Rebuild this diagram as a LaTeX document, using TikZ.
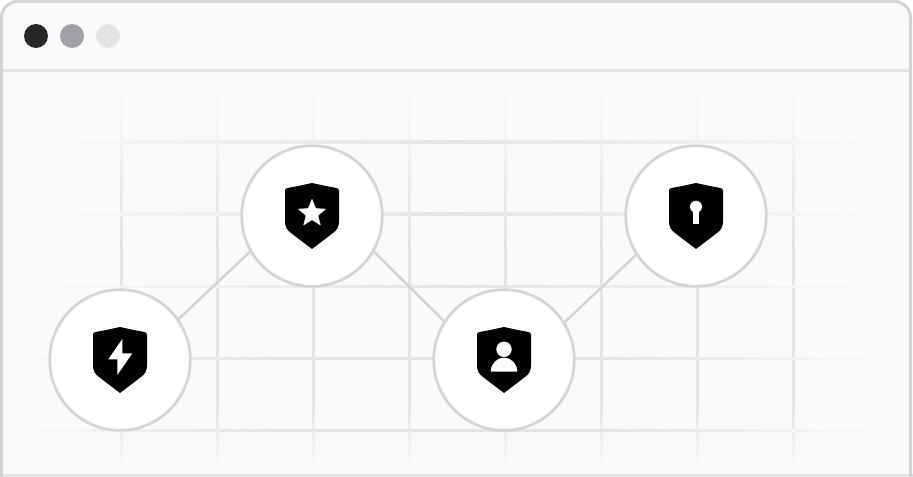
\documentclass[tikz,border=0pt]{standalone}
\usetikzlibrary{shadings}
\definecolor{panel}{HTML}{FAFAFA}
\definecolor{edgegray}{HTML}{D4D4D8}
\definecolor{rulegray}{HTML}{E4E4E7}
\definecolor{midgray}{HTML}{A1A1AA}
\definecolor{darkdot}{HTML}{27272A}
% the path sits in the middle of the shading, 25bp to 75bp
\pgfdeclareverticalshading{fadev}{100bp}{color(0bp)=(panel); color(25bp)=(panel); color(34bp)=(rulegray); color(53bp)=(rulegray); color(75bp)=(panel); color(100bp)=(panel)}
\pgfdeclarehorizontalshading{fadeh}{100bp}{color(0bp)=(panel); color(25bp)=(panel); color(40bp)=(rulegray); color(58bp)=(rulegray); color(75bp)=(panel); color(100bp)=(panel)}
\pgfdeclarehorizontalshading{fadeup}{100bp}{color(0bp)=(panel); color(25bp)=(panel); color(50bp)=(rulegray); color(75bp)=(panel); color(100bp)=(panel)}
\tikzset{
  gridv/.style={shading=fadev},
  gridh/.style={shading=fadeh},
  gridup/.style={shading=fadeup},
  dot/.style={circle, minimum size=18pt, inner sep=0pt},
  badge/.style={draw=edgegray, circle, fill=white, line width=2pt, minimum size=105.5pt, inner sep=0pt},
  link/.style={draw=edgegray, line width=1.9pt},
  shield/.pic={
    \fill[black] (0,-33) .. controls (-9,-31) and (-16,-29.5) .. (-24.5,-28) .. controls (-26.2,-27.6) and (-27,-26.6) .. (-27,-25)
      -- (-27,5) .. controls (-27,11) and (-25,14) .. (-21,17) -- (0,33) -- (21,17)
      .. controls (25,14) and (27,11) .. (27,5) -- (27,-25) .. controls (27,-26.6) and (26.2,-27.6) .. (24.5,-28)
      .. controls (16,-29.5) and (9,-31) .. (0,-33) -- cycle;
  }
}
\begin{document}
\begin{tikzpicture}[x=0.75pt,y=-0.75pt]
    \useasboundingbox (0,0) rectangle (913,477);
    \fill[panel, rounded corners=12pt] (1,490) -- (1,1) -- (911,1) -- (911,490) -- cycle;
    \fill[white] (0,477) rectangle (913,490);

    % grid
    \shade[gridv] (120,78) rectangle (122.5,474);
    \shade[gridv] (216,78) rectangle (218.5,474);
    \shade[gridv] (312,78) rectangle (314.5,474);
    \shade[gridv] (408,78) rectangle (410.5,474);
    \shade[gridv] (504,78) rectangle (506.5,474);
    \shade[gridv] (600,78) rectangle (602.5,474);
    \shade[gridv] (696,78) rectangle (698.5,474);
    \shade[gridv] (792,78) rectangle (794.5,474);
    \shade[gridup] (10,141) rectangle (903,143.5);
    \shade[gridup] (10,213) rectangle (903,215.5);
    \shade[gridup] (10,285) rectangle (903,287.5);
    \shade[gridh] (10,357) rectangle (903,359.5);
    \shade[gridh] (10,429) rectangle (903,431.5);

    % window
    \draw[rulegray, line width=2.25pt] (3,70.5) -- (909,70.5);
    \draw[rulegray, line width=2.25pt] (0,475.5) -- (913,475.5);
    \draw[edgegray, line width=2.25pt, rounded corners=12pt] (1.5,477) -- (1.5,1.5) -- (910.5,1.5) -- (910.5,477);
    \node[dot, fill=darkdot] (close) at (36,36) {};
    \node[dot, fill=midgray] (minimize) at (72,36) {};
    \node[dot, fill=rulegray] (zoom) at (108,36) {};

    \node[badge] (bolt) at (120,360) {};
    \node[badge] (star) at (312,216) {};
    \node[badge] (person) at (504,360) {};
    \node[badge] (lock) at (696,216) {};

    \draw[link] (bolt.35) -- (star.210);
    \draw[link] (star.-30) -- (person.147);
    \draw[link] (person.32) -- (lock.213);

    % icons
    \pic at (bolt) {shield};
    \pic at (star) {shield};
    \pic at (person) {shield};
    \pic at (lock) {shield};
    \begin{scope}[shift={(bolt)}]
      \fill[white] (2.3,-21) -- (-11.7,-0.7) -- (-2.7,-0.7) -- (-2.7,15) -- (12.3,-6.7) -- (2.3,-6.7) -- cycle;
    \end{scope}
    \begin{scope}[shift={(star)}]
      \fill[white, rounded corners=0.6pt] (0,-17.5) -- (3.8,-7.8) -- (14.3,-7.1) -- (6.2,-0.5) -- (8.8,9.6) -- (0,4) -- (-8.8,9.6) -- (-6.2,-0.5) -- (-14.3,-7.1) -- (-3.8,-7.8) -- cycle;
    \end{scope}
    \begin{scope}[shift={(person)}]
      \fill[white] (0,-10.7) circle[radius=7.7];
      \fill[white] (-13.3,11.7) arc[start angle=180, end angle=0, x radius=13.3, y radius=-14] -- cycle;
    \end{scope}
    \begin{scope}[shift={(lock)}]
      \fill[white] (0,-9.3) circle[radius=6];
      \fill[white] (-3.3,-9.3) rectangle (3.3,8.3);
    \end{scope}
\end{tikzpicture}
\end{document}
